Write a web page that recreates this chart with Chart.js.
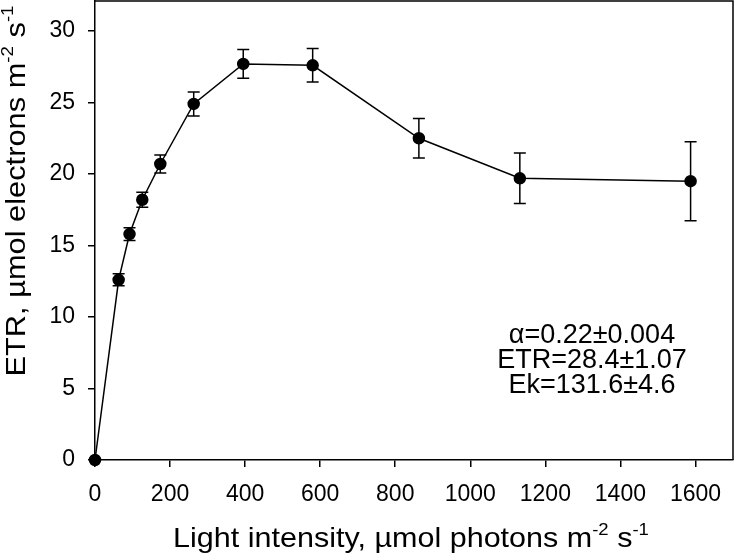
<!DOCTYPE html>
<html>
<head>
<meta charset="utf-8">
<script src="https://cdn.jsdelivr.net/npm/chart.js@4/dist/chart.umd.min.js"></script>
<style>
html,body{margin:0;padding:0;background:#fff;}
#wrap{width:734px;height:556px;position:relative;}
</style>
</head>
<body>
<div id="wrap"><canvas id="c" width="734" height="556"></canvas></div>
<script>
// Data
const lightIntensity = [0, 63, 92, 126, 174, 263, 395, 580, 863, 1132, 1587];
const etrValues      = [0, 12.6, 15.8, 18.2, 20.7, 24.9, 27.7, 27.6, 22.5, 19.7, 19.5];
const etrErrors      = [0, 0.42, 0.45, 0.52, 0.63, 0.84, 1.01, 1.17, 1.38, 1.77, 2.76];
const xTickValues = [0, 200, 400, 600, 800, 1000, 1200, 1400, 1600];
const yTickValues = [0, 5, 10, 15, 20, 25, 30];
const annotationLines = ['α=0.22±0.004', 'ETR=28.4±1.07', 'Ek=131.6±4.6'];

const FONT = '"Liberation Sans", Arial, sans-serif';

const points = lightIntensity.map((x, i) => ({x: x, y: etrValues[i], e: etrErrors[i]}));

function drawSupText(ctx, parts, x, y, size, stretch) {
  const supSize = Math.round(size * 0.62);
  let total = 0;
  parts.forEach(p => {
    ctx.font = (p[1] ? supSize : size) + 'px ' + FONT;
    total += ctx.measureText(p[0]).width;
  });
  ctx.save();
  ctx.translate(x, y);
  ctx.scale(stretch, 1);
  let cx = -total / 2;
  ctx.textAlign = 'left';
  ctx.textBaseline = 'alphabetic';
  parts.forEach(p => {
    ctx.font = (p[1] ? supSize : size) + 'px ' + FONT;
    ctx.fillText(p[0], cx, p[1] ? -size * 0.42 : 0);
    cx += ctx.measureText(p[0]).width;
  });
  ctx.restore();
}

const extras = {
  id: 'extras',
  afterDatasetsDraw(chart) {
    const ctx = chart.ctx;
    const xs = chart.scales.x, ys = chart.scales.y;
    const a = chart.chartArea;
    ctx.save();
    // error bars
    ctx.strokeStyle = '#000';
    ctx.lineWidth = 1.5;
    points.forEach(p => {
      if (!p.e) return;
      const px = xs.getPixelForValue(p.x);
      const top = ys.getPixelForValue(p.y + p.e);
      const bot = ys.getPixelForValue(p.y - p.e);
      ctx.beginPath();
      ctx.moveTo(px, top); ctx.lineTo(px, bot);
      ctx.moveTo(px - 6, top); ctx.lineTo(px + 6, top);
      ctx.moveTo(px - 6, bot); ctx.lineTo(px + 6, bot);
      ctx.stroke();
    });
    // frame top and right
    ctx.lineWidth = 1.5;
    ctx.beginPath();
    ctx.moveTo(a.left, a.top); ctx.lineTo(a.right, a.top); ctx.lineTo(a.right, a.bottom);
    ctx.stroke();
    // annotation
    ctx.fillStyle = '#000';
    ctx.font = '27px ' + FONT;
    ctx.textAlign = 'center';
    ctx.textBaseline = 'middle';
    annotationLines.forEach((t, i) => ctx.fillText(t, 592, 336 + i * 25));
    // x axis title
    drawSupText(ctx, [['Light intensity, µmol photons m', false], ['-2', true], [' s', false], ['-1', true]], 411, 547, 28, 1.09);
    // y axis title
    ctx.translate(25, 191);
    ctx.rotate(-Math.PI / 2);
    drawSupText(ctx, [['ETR, µmol electrons m', false], ['-2', true], [' s', false], ['-1', true]], 0, 0, 28, 1.1);
    ctx.restore();
  }
};

new Chart(document.getElementById('c'), {
  type: 'line',
  data: {
    datasets: [{
      data: points,
      borderColor: '#000',
      borderWidth: 1.5,
      backgroundColor: '#000',
      pointRadius: 5.5,
      pointHoverRadius: 5.5,
      pointBackgroundColor: '#000',
      pointBorderColor: '#000',
      tension: 0,
      clip: false
    }]
  },
  options: {
    responsive: false,
    animation: false,
    layout: {autoPadding: false, padding: {top: 1, right: 1, left: 0, bottom: 0}},
    plugins: {legend: {display: false}, tooltip: {enabled: false}},
    scales: {
      x: {
        type: 'linear',
        min: 0,
        max: 1700,
        afterBuildTicks: s => { s.ticks = xTickValues.map(v => ({value: v})); },
        afterFit: s => { s.height = 96; s.paddingLeft = 0; s.paddingRight = 0; },
        grid: {drawOnChartArea: false, drawTicks: true, tickLength: 7, color: '#000', lineWidth: 1.5},
        border: {display: true, color: '#000', width: 1.5},
        ticks: {color: '#000', font: {family: FONT, size: 23}, padding: 14, maxRotation: 0, callback: v => String(v)}
      },
      y: {
        min: 0,
        max: 32.1,
        afterBuildTicks: s => { s.ticks = yTickValues.map(v => ({value: v})); },
        afterFit: s => { s.width = 95; s.paddingTop = 0; s.paddingBottom = 0; },
        grid: {drawOnChartArea: false, drawTicks: true, tickLength: 7, color: '#000', lineWidth: 1.5},
        border: {display: true, color: '#000', width: 1.5},
        ticks: {color: '#000', font: {family: FONT, size: 23}, padding: 13, callback: v => String(v)}
      }
    }
  },
  plugins: [extras]
});
</script>
</body>
</html>
